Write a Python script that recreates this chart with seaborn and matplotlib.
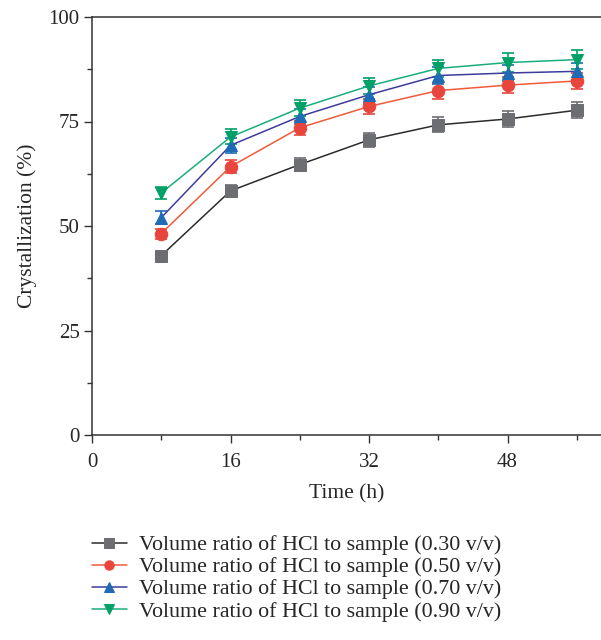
import pandas as pd
import numpy as np
from matplotlib import pyplot as plt
from matplotlib.ticker import MultipleLocator
import seaborn as sns

time_h = [8, 16, 24, 32, 40, 48, 56]

cryst_030 = [42.9, 58.4, 64.7, 70.6, 74.2, 75.6, 77.7]
cryst_050 = [48.2, 64.2, 73.5, 78.6, 82.4, 83.7, 84.7]
cryst_070 = [52.0, 69.3, 76.2, 81.4, 86.0, 86.6, 87.0]
cryst_090 = [57.9, 71.3, 78.2, 83.5, 87.7, 89.1, 89.8]

err_030 = [0.8, 1.5, 1.6, 1.7, 1.8, 1.9, 1.9]
err_050 = [1.2, 1.6, 1.7, 1.8, 1.9, 2.0, 2.0]
err_070 = [1.5, 1.8, 1.8, 1.9, 2.0, 2.0, 2.1]
err_090 = [1.4, 1.8, 1.9, 2.0, 2.1, 2.2, 2.3]

labels = [
    "Volume ratio of HCl to sample (0.30 v/v)",
    "Volume ratio of HCl to sample (0.50 v/v)",
    "Volume ratio of HCl to sample (0.70 v/v)",
    "Volume ratio of HCl to sample (0.90 v/v)",
]

sns.set_style("ticks")
plt.rcParams['font.family'] = ['Liberation Serif', 'DejaVu Serif']

series = [cryst_030, cryst_050, cryst_070, cryst_090]
errors = [err_030, err_050, err_070, err_090]
line_colors = ["#2b2b2b", "#f15a3a", "#3d3c9c", "#19ad7c"]
marker_colors = ["#6d6e72", "#e8453c", "#1f6bb6", "#00a066"]
markers = ["s", "o", "^", "v"]

df = pd.DataFrame({
    "Time": time_h * 4,
    "Crystallization": sum(series, []),
    "Series": sum([[lab] * len(time_h) for lab in labels], []),
})

fig = plt.figure(figsize=(6.01, 6.40), dpi=100)
ax = fig.add_axes([92 / 601, 1 - 435 / 640, 1 - 92 / 601, (435 - 17) / 640])

for lab, vals, err, lc, mc, mk in zip(labels, series, errors, line_colors, marker_colors, markers):
    ax.errorbar(time_h, vals, yerr=err, fmt="none", ecolor=mc, elinewidth=1.2,
                capsize=4, capthick=1.2, zorder=2)
    sub = df[df["Series"] == lab]
    sns.lineplot(data=sub, x="Time", y="Crystallization", ax=ax, color=lc,
                 linewidth=1.1, marker=mk, markersize=9, markerfacecolor=mc,
                 markeredgecolor=mc, label=lab, zorder=3)

ax.set_xlim(0, 58.8)
ax.set_ylim(0, 100)
ax.xaxis.set_major_locator(MultipleLocator(16))
ax.xaxis.set_minor_locator(MultipleLocator(8))
ax.yaxis.set_major_locator(MultipleLocator(25))
ax.yaxis.set_minor_locator(MultipleLocator(12.5))
ax.tick_params(which="major", length=6, width=1, labelsize=15, color="#333333")
ax.tick_params(axis="x", which="major", pad=7)
ax.tick_params(axis="y", which="major", pad=3)
ax.tick_params(which="minor", length=3.5, width=1, color="#333333")
for side in ["left", "bottom", "top"]:
    ax.spines[side].set_linewidth(1.1)
    ax.spines[side].set_color("#333333")
ax.spines["right"].set_visible(False)

ax.set_xlabel("Time (h)", fontsize=15.5, labelpad=9)
ax.set_ylabel("Crystallization (%)", fontsize=15.5, labelpad=8)

handles, leg_labels = ax.get_legend_handles_labels()
ax.get_legend().remove()
fig.legend(handles, leg_labels, loc="upper left", bbox_to_anchor=(0.138, 0.178),
           frameon=False, fontsize=15.8, handlelength=1.6, handletextpad=0.55,
           labelspacing=0.08, borderaxespad=0, markerscale=0.75)

fig.savefig("out.png", dpi=100)
